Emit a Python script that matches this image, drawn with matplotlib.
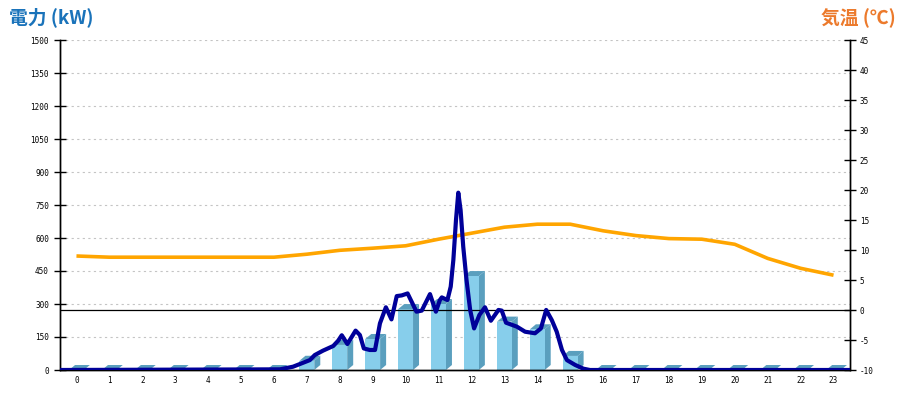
import matplotlib
matplotlib.use("Agg")
import matplotlib.pyplot as plt
from matplotlib.patches import Polygon

plt.rcParams["axes.unicode_minus"] = False

# ---- data ----
hours = list(range(24))
hour_labels = [str(h) for h in hours]
energy_kwh = [0, 0, 0, 0, 0, 0, 0, 42, 114, 141, 277, 300, 427, 220, 185, 64,
              0, 0, 0, 0, 0, 0, 0, 0]
temperature_c = [9.0, 8.8, 8.8, 8.8, 8.8, 8.8, 8.8, 9.3, 9.95, 10.3, 10.7, 11.8,
                 12.8, 13.8, 14.3, 14.3, 13.2, 12.4, 11.9, 11.8, 10.95, 8.6, 6.95, 5.8]
# instantaneous power: clock time (h) and kW
power_time = [0.0, 6.68, 7.08, 7.59, 7.74, 7.99, 8.30, 8.45, 8.56, 8.73, 8.98, 9.11,
              9.23, 9.41, 9.57, 9.72, 9.90, 10.07, 10.23, 10.38, 10.56, 10.83, 10.99,
              11.24, 11.42, 11.54, 11.60, 11.77, 11.87, 11.95, 12.03, 12.10, 12.17,
              12.25, 12.35, 12.46, 12.58, 12.74, 12.91, 13.09, 13.32, 13.42, 13.55,
              13.88, 14.13, 14.43, 14.61, 14.77, 14.94, 15.09, 15.25, 15.40, 15.65,
              15.90, 16.10, 24.0]
power_kw = [0, 3, 15, 45, 68, 88, 109, 133, 158, 118, 179, 159,
            98, 91, 91, 212, 285, 230, 336, 339, 348, 265, 270,
            345, 265, 318, 330, 318, 379, 500, 682, 806, 727,
            561, 409, 273, 189, 250, 285, 224, 273, 270, 215,
            197, 174, 167, 189, 273, 227, 174, 91, 45, 23,
            6, 0, 0]
left_ticks = list(range(0, 1501, 150))
right_ticks = list(range(-10, 46, 5))

# ---- figure ----
fig = plt.figure(figsize=(9, 4), dpi=100)
ax = fig.add_axes([60 / 900, 30 / 400, 790 / 900, 330 / 400])
ax.set_xlim(-0.5, 23.5)
ax.set_ylim(0, 1500)
ax2 = ax.twinx()
ax2.set_ylim(-10, 45)

tick_font = dict(family="DejaVu Sans Mono", size=5.5)

# grid
for v in left_ticks[1:]:
    ax.axhline(v, color="#c4c4c4", lw=0.8, ls=(0, (2.0, 3.0)), zorder=0)

# 3D bars
bw = 0.45
dx = 6 / (ax.bbox.width / 24.0)
dy = 5 / (ax.bbox.height / 1500.0)
front_c = "#87CEEB"
dark_c = "#5A9FBE"
for h, v in zip(hours, energy_kwh):
    x0, x1 = h - bw / 2, h + bw / 2
    if v > 0:
        ax.add_patch(Polygon([(x1, 0), (x1, v), (x1 + dx, v + dy), (x1 + dx, dy)],
                             closed=True, fc=dark_c, ec="none", zorder=2))
        ax.bar(h, v, width=bw, color=front_c, zorder=2.5, linewidth=0)
    ax.add_patch(Polygon([(x0, v), (x0 + dx, v + dy), (x1 + dx, v + dy), (x1, v)],
                         closed=True, fc=dark_c, ec="none", zorder=2))

# spines / ticks
ax.spines["top"].set_visible(False)
ax2.spines["top"].set_visible(False)
for a in (ax, ax2):
    for s in a.spines.values():
        s.set_linewidth(1.0)
        s.set_color("black")

ax.set_yticks(left_ticks)
ax.set_yticklabels([str(t) for t in left_ticks], **tick_font)
ax.tick_params(axis="y", direction="inout", length=8, width=1, pad=4)
ax.set_xticks(hours)
ax.set_xticklabels(hour_labels, **tick_font)
ax.tick_params(axis="x", length=0, pad=4)

ax2.set_yticks(right_ticks)
ax2.set_yticklabels([str(t) for t in right_ticks], **tick_font)
ax2.tick_params(axis="y", direction="inout", length=8, width=1, pad=3)

# 0 deg line, temperature
ax2.axhline(0, color="black", lw=0.9, zorder=3)
ax2.plot(hours, temperature_c, color="#FFA500", lw=2.6, zorder=4,
         solid_capstyle="butt")
# power line (on power scale, drawn topmost)
ax2.plot([t - 0.5 for t in power_time], power_kw, color="#000099", lw=3.0,
         zorder=5, transform=ax.transData, solid_joinstyle="round")

fig.text(9 / 900, 1 - 17 / 400, "電力 (kW)", color="#1a73ba", fontsize=13.5,
         fontweight="bold", family=["Noto Sans CJK JP", "DejaVu Sans"],
         ha="left", va="center")
fig.text(1 - 4 / 900, 1 - 18 / 400, "気温 (℃)", color="#ec7a2c", fontsize=13.5,
         fontweight="bold", family=["Noto Sans CJK JP", "DejaVu Sans"],
         ha="right", va="center")

fig.savefig("out.png", dpi=100)
